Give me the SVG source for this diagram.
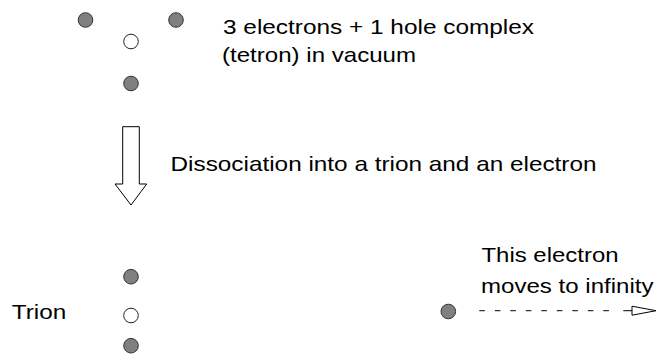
<svg xmlns="http://www.w3.org/2000/svg" width="657" height="354" viewBox="0 0 657 354">
<defs>
<style>
.e{fill:#808080;stroke:#333;stroke-width:1}
.h{fill:#fff;stroke:#222;stroke-width:1}
.ln{stroke:#000;stroke-width:1;fill:none}
text{font-family:"Liberation Sans",Arial,sans-serif;font-size:21px;fill:#000}
</style>
</defs>
<rect width="657" height="354" fill="#fff"/>
<g id="tetron">
<circle class="e" cx="85.5" cy="20" r="7.3"/>
<circle class="e" cx="176" cy="20" r="7.3"/>
<circle class="h" cx="131" cy="41.5" r="7.3"/>
<circle class="e" cx="131" cy="83.5" r="7.3"/>
</g>
<g id="tetron-label">
<text x="223" y="34.3" textLength="311" lengthAdjust="spacingAndGlyphs">3 electrons + 1 hole complex</text>
<text x="222" y="61.5" textLength="194" lengthAdjust="spacingAndGlyphs">(tetron) in vacuum</text>
</g>
<g id="dissociation-arrow">
<path d="M122.7,126.7 H139.3 V184 H146.7 L131,205 L115,184 H122.7 Z" fill="#fff" stroke="#000" stroke-width="1"/>
</g>
<g id="dissociation-label">
<text x="170.5" y="170.7" textLength="426" lengthAdjust="spacingAndGlyphs">Dissociation into a trion and an electron</text>
</g>
<g id="trion">
<circle class="e" cx="131" cy="276.7" r="7.3"/>
<circle class="h" cx="131" cy="315.5" r="7.3"/>
<circle class="e" cx="131" cy="345.7" r="7.3"/>
<text x="11.7" y="319" textLength="54.5" lengthAdjust="spacingAndGlyphs">Trion</text>
</g>
<g id="free-electron">
<circle class="e" cx="448.3" cy="311.5" r="7.3"/>
<text x="481.5" y="262.3" textLength="137" lengthAdjust="spacingAndGlyphs">This electron</text>
<text x="481" y="293" textLength="172.5" lengthAdjust="spacingAndGlyphs">moves to infinity</text>
</g>
<g id="connectors">
<line class="ln" x1="479.3" y1="310.7" x2="609" y2="310.7" stroke-dasharray="5.6,9.9"/>
<line class="ln" x1="623.3" y1="310.7" x2="632" y2="310.7"/>
<path d="M632,306.2 L656,310.7 L632,315.2 Z" fill="#fff" stroke="#000" stroke-width="1"/>
</g>
</svg>
